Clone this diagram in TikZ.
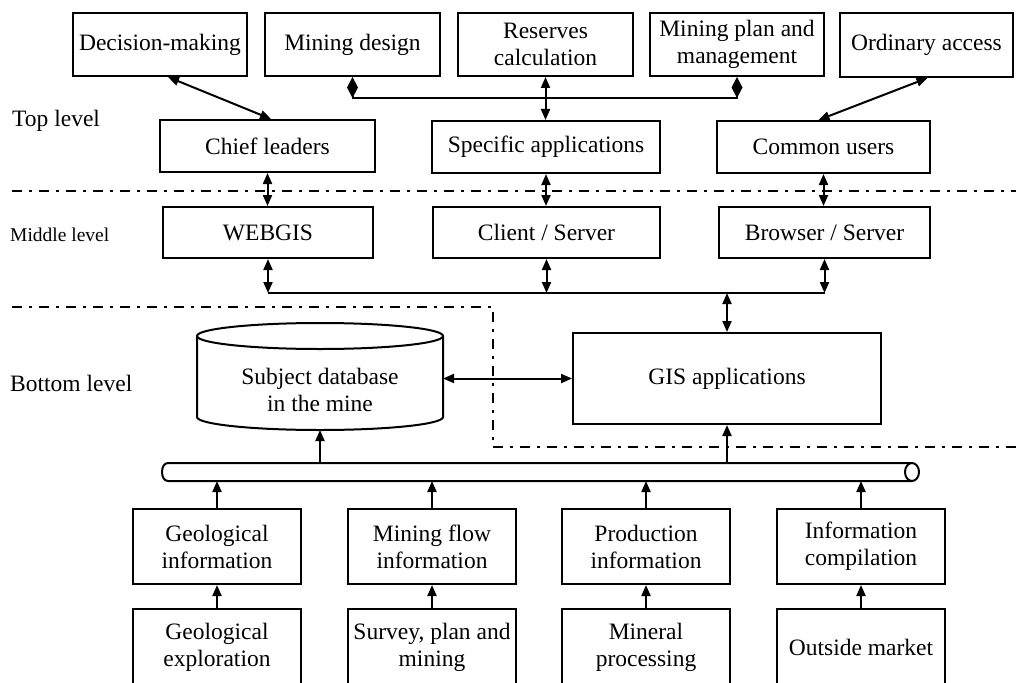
\documentclass[tikz,border=0pt]{standalone}
\usepackage{fontspec}
\setmainfont{Liberation Serif}
\usetikzlibrary{arrows.meta}
\begin{document}
\begin{tikzpicture}[x=1pt,y=-1pt,
  box/.style={draw, line width=2pt, inner sep=0pt, align=center, fill=white, font=\fontsize{23.5}{27}\selectfont},
  lvl/.style={anchor=west, inner sep=0pt, font=\fontsize{23.5}{27}\selectfont},
  ln/.style={line width=2pt},
  dbl/.style={ln, {Triangle[length=11pt,width=9pt]}-{Triangle[length=11pt,width=9pt]}},
  one/.style={ln, -{Triangle[length=11pt,width=9pt]}},
  dia/.style={ln, {Diamond[length=21pt,width=11pt]}-{Diamond[length=21pt,width=11pt]}},
  dashdot/.style={line width=2.6pt, dash pattern=on 10pt off 7pt on 3pt off 7pt},
  ghost/.style={inner sep=0pt, outer sep=0pt}
]
\useasboundingbox (0,0) rectangle (1016,682);
\clip (0,0) rectangle (1016,682);

% level separators
\draw[dashdot] (12,191) -- (1016,191);
\draw[dashdot] (12,307) -- (493,307) -- (493,447) -- (1016,447);

% level labels
\node[lvl] (tl) at (12,121) {Top level};
\node[lvl, font=\fontsize{19.5}{22}\selectfont] (ml) at (10,235) {Middle level};
\node[lvl] (bl) at (10,383) {Bottom level};

% top row
\node[box, minimum width=174pt, minimum height=63pt] (dec) at (160,44.5) {Decision-making};
\node[box, minimum width=175pt, minimum height=63pt] (mdes) at (352.5,44.5) {Mining design};
\node[box, minimum width=175pt, minimum height=63pt] (res) at (545.5,44.5) {Reserves\\calculation};
\node[box, minimum width=174pt, minimum height=63pt] (mplan) at (737,44.5) {Mining plan and\\management};
\node[box, minimum width=173pt, minimum height=64pt] (ord) at (926.5,45) {Ordinary access};

% user row
\node[box, minimum width=215pt, minimum height=52pt] (chief) at (267.5,146) {Chief leaders};
\node[box, minimum width=228pt, minimum height=52pt] (spec) at (546,147) {Specific applications};
\node[box, minimum width=213pt, minimum height=52pt] (common) at (823.5,147) {Common users};

% middle row
\node[box, minimum width=210pt, minimum height=51pt] (webgis) at (268,232.5) {WEBGIS};
\node[box, minimum width=227pt, minimum height=51pt] (cs) at (546.5,232.5) {Client / Server};
\node[box, minimum width=211pt, minimum height=51pt] (bs) at (824.5,232.5) {Browser / Server};

% GIS applications
\node[box, minimum width=308pt, minimum height=91pt] (gis) at (727,378.5) {GIS applications};

% cylinder database
\node[ghost, minimum width=246pt, minimum height=107pt] (cyl) at (320,376.5) {};
\draw[ln, fill=white] (197,336) -- (197,417)
  .. controls (197,424.18) and (252.1,430) .. (320,430)
  .. controls (387.9,430) and (443,424.18) .. (443,417) -- (443,336);
\draw[ln, fill=white] (320,336) ellipse [x radius=123, y radius=13];
\node[ghost, align=center, font=\fontsize{23.5}{27}\selectfont] (cyltext) at (320,390) {Subject database\\in the mine};

% bus
\node[ghost, minimum width=757pt, minimum height=18pt] (bus) at (540.5,472) {};
\draw[ln] (912,463) -- (168,463) .. controls (160,463) and (160,481) .. (168,481) -- (912,481);
\draw[ln, fill=white] (912,472) ellipse [x radius=7, y radius=9];

% information row
\node[box, minimum width=168pt, minimum height=75pt] (geoi) at (217,546.5) {Geological\\information};
\node[box, minimum width=168pt, minimum height=75pt] (mflow) at (432,546.5) {Mining flow\\information};
\node[box, minimum width=168pt, minimum height=75pt] (prod) at (646,546.5) {Production\\information};
\node[box, minimum width=168pt, minimum height=75pt] (infc) at (861,546.5) {Information\\compilation};

% source row (cut by the page bottom)
\node[box, minimum width=168pt, minimum height=77pt] (geoe) at (217,647.5) {Geological\\exploration};
\node[box, minimum width=168pt, minimum height=77pt] (spm) at (432,647.5) {Survey, plan and\\mining};
\node[box, minimum width=168pt, minimum height=77pt] (minp) at (646,647.5) {Mineral\\processing};
\node[box, minimum width=168pt, minimum height=77pt] (outm) at (861,647.5) {Outside market};

% connectors, top
\coordinate (dl) at (0,98);
\coordinate (hl) at (0,293);
\draw[dbl] ([xshift=8pt]dec.south) -- ([xshift=3.5pt]chief.north);
\draw[dbl] ([xshift=1pt]ord.south) -- ([xshift=-5pt]common.north);
\draw[dia] (mdes.south) -- (mdes.south |- dl) -- (mplan.south |- dl) -- (mplan.south);
\draw[dbl] (res.south) -- (res.south |- spec.north);

% connectors across the first separator
\draw[dbl] (chief.south) -- (chief.south |- webgis.north);
\draw[dbl] (spec.south) -- (spec.south |- cs.north);
\draw[dbl] (common.south) -- (common.south |- bs.north);

% middle to GIS
\draw[dbl] (webgis.south) -- (webgis.south |- hl);
\draw[dbl] (cs.south) -- (cs.south |- hl);
\draw[dbl] (bs.south) -- (bs.south |- hl);
\draw[ln] (webgis.south |- hl) -- (bs.south |- hl);
\draw[dbl] (gis.north |- hl) -- (gis.north);

% database and GIS
\draw[dbl] (gis.west -| cyl.east) -- (gis.west);
\draw[one] (bus.north -| cyl.south) -- (cyl.south);
\draw[one] (bus.north -| gis.south) -- (gis.south);

% information to bus
\foreach \n in {geoi,mflow,prod,infc}{
  \draw[one] (\n.north) -- (\n.north |- bus.south);
}
\draw[one] (geoe.north) -- (geoi.south);
\draw[one] (spm.north) -- (mflow.south);
\draw[one] (minp.north) -- (prod.south);
\draw[one] (outm.north) -- (infc.south);
\end{tikzpicture}
\end{document}
